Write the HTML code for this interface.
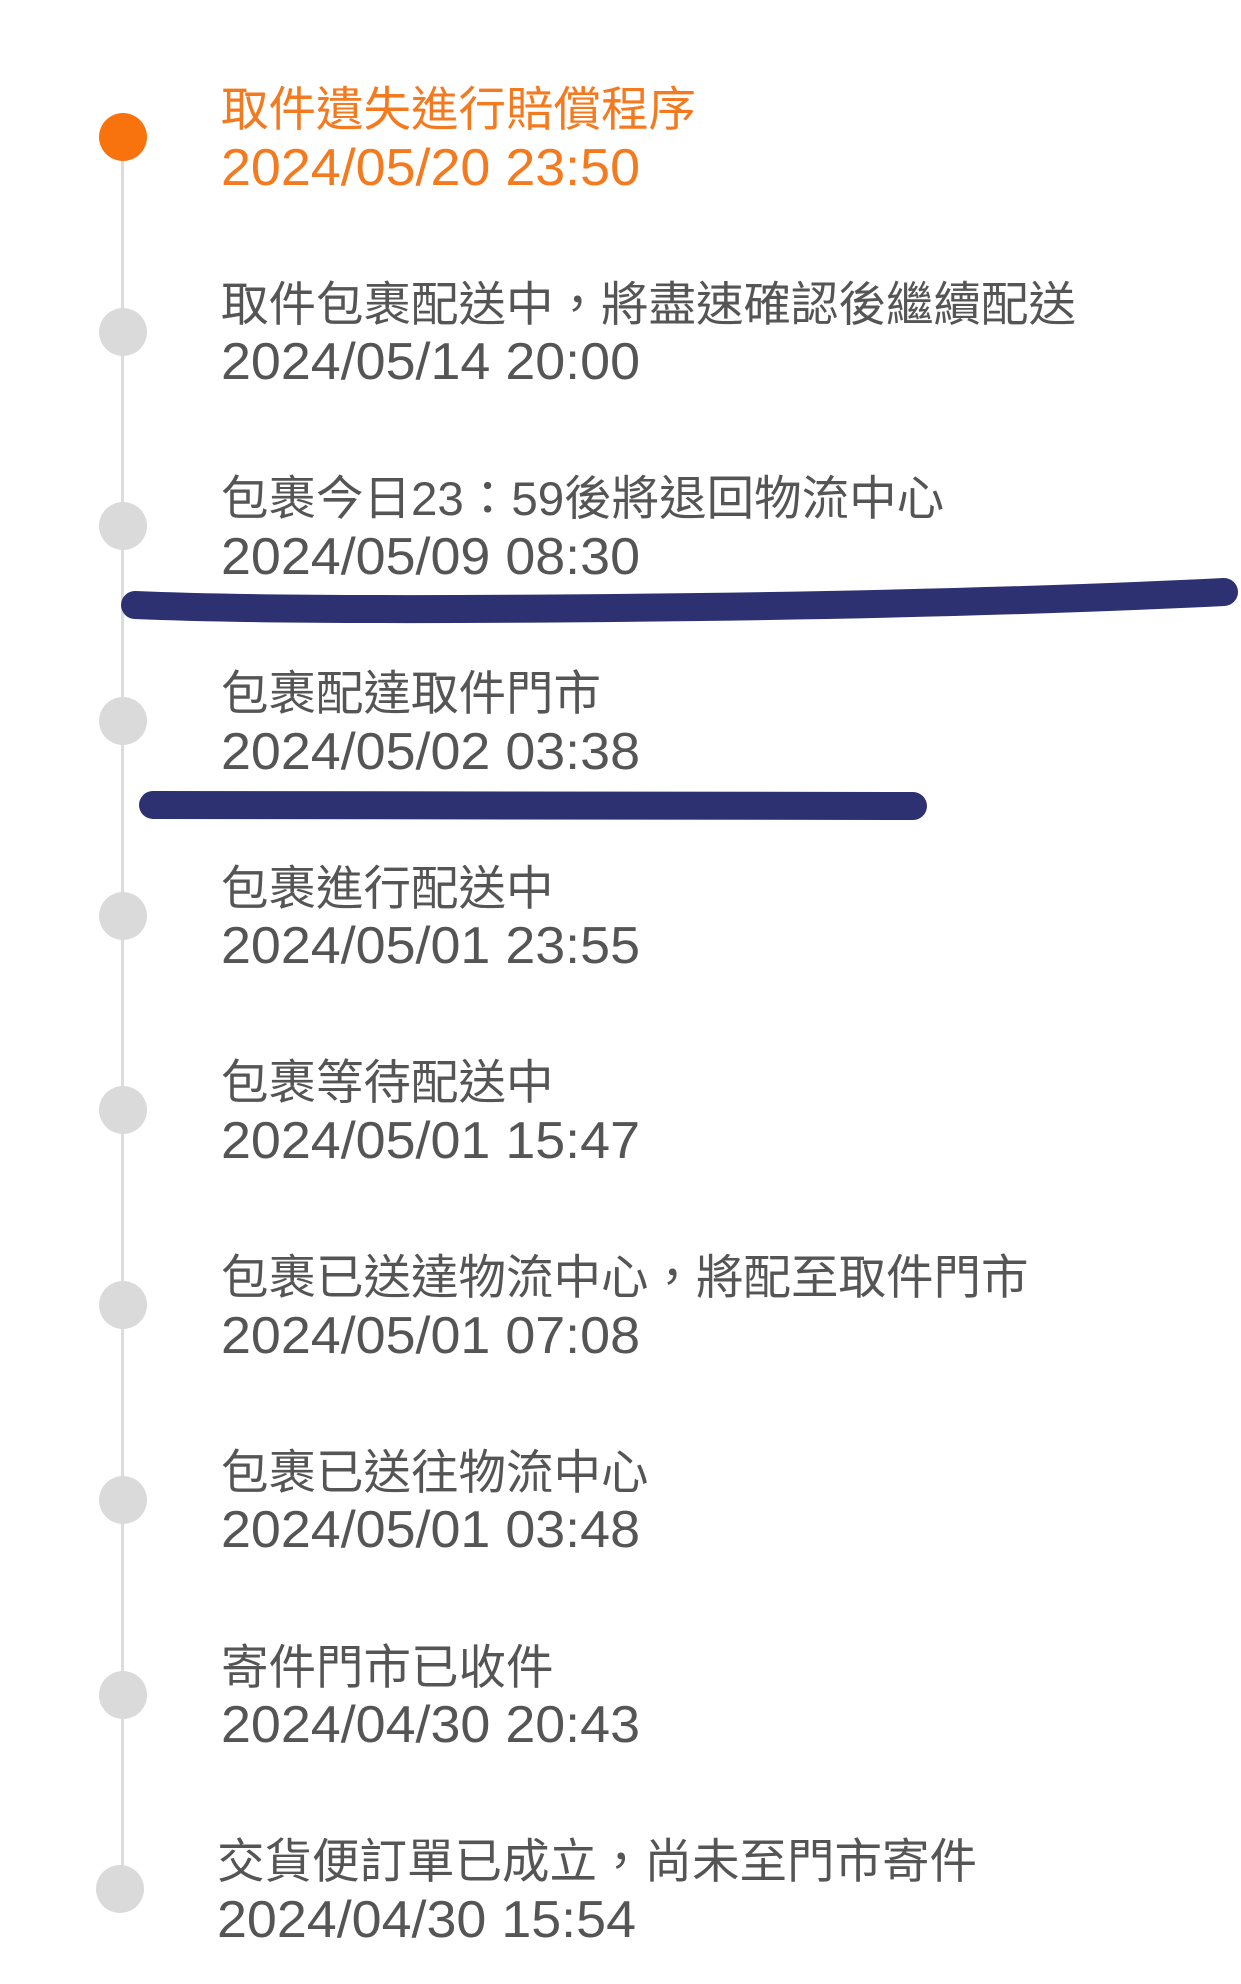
<!DOCTYPE html>
<html><head><meta charset="utf-8"><style>
html,body{margin:0;padding:0;background:#fff;width:1241px;height:1984px;overflow:hidden;position:relative}
.line{position:absolute;left:121px;top:137px;width:3px;height:1752px;background:#dcdcdc}
.dot{position:absolute;width:48px;height:48px;border-radius:50%;background:#dadada}
.t{position:absolute;left:221px;font-family:"Liberation Sans","Noto Sans CJK TC",sans-serif;color:#555;white-space:nowrap}
.a{font-size:47.5px;line-height:60px}
.d{font-size:52px;line-height:60px;transform:scaleX(1.035);transform-origin:left}
.o{color:#f47a20}
</style></head><body>
<div class="line"></div>
<div class="dot" style="left:99px;top:113px;background:#f8720e"></div>
<div class="dot" style="left:99px;top:308px"></div>
<div class="dot" style="left:99px;top:502px"></div>
<div class="dot" style="left:99px;top:697px"></div>
<div class="dot" style="left:99px;top:892px"></div>
<div class="dot" style="left:99px;top:1086px"></div>
<div class="dot" style="left:99px;top:1281px"></div>
<div class="dot" style="left:99px;top:1476px"></div>
<div class="dot" style="left:99px;top:1671px"></div>
<div class="dot" style="left:96px;top:1865px"></div>

<div class="t a o" style="top:81px">取件遺失進行賠償程序</div>
<div class="t d o" style="top:138px">2024/05/20 23:50</div>
<div class="t a" style="top:276px">取件包裹配送中，將盡速確認後繼續配送</div>
<div class="t d" style="top:332px">2024/05/14 20:00</div>
<div class="t a" style="top:470px">包裹今日23：59後將退回物流中心</div>
<div class="t d" style="top:527px">2024/05/09 08:30</div>
<div class="t a" style="top:665px">包裹配達取件門市</div>
<div class="t d" style="top:722px">2024/05/02 03:38</div>
<div class="t a" style="top:860px">包裹進行配送中</div>
<div class="t d" style="top:916px">2024/05/01 23:55</div>
<div class="t a" style="top:1054px">包裹等待配送中</div>
<div class="t d" style="top:1111px">2024/05/01 15:47</div>
<div class="t a" style="top:1249px">包裹已送達物流中心，將配至取件門市</div>
<div class="t d" style="top:1306px">2024/05/01 07:08</div>
<div class="t a" style="top:1444px">包裹已送往物流中心</div>
<div class="t d" style="top:1500px">2024/05/01 03:48</div>
<div class="t a" style="top:1639px">寄件門市已收件</div>
<div class="t d" style="top:1695px">2024/04/30 20:43</div>
<div class="t a" style="top:1833px;left:217px">交貨便訂單已成立，尚未至門市寄件</div>
<div class="t d" style="top:1890px;left:217px">2024/04/30 15:54</div>

<svg width="1241" height="1984" style="position:absolute;left:0;top:0">
<path d="M135 605 Q300 612 700 607 Q1000 603 1224 592" stroke="#2d3172" stroke-width="28" fill="none" stroke-linecap="round"/>
<path d="M153 805 L913 806" stroke="#2d3172" stroke-width="28" fill="none" stroke-linecap="round"/>
</svg>
</body></html>
